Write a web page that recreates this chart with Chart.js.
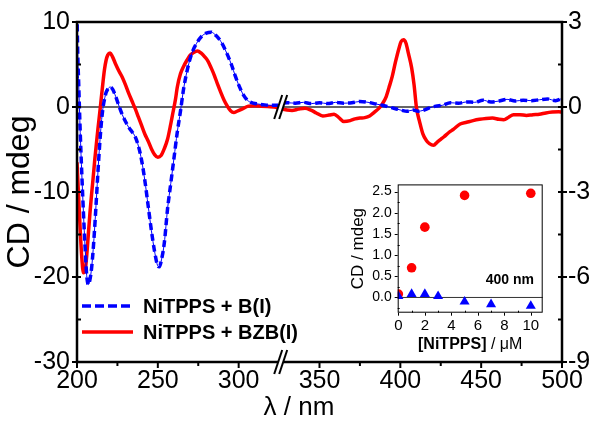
<!DOCTYPE html>
<html>
<head>
<meta charset="utf-8">
<script src="https://cdn.jsdelivr.net/npm/chart.js@4/dist/chart.umd.min.js"></script>
<style>
body { margin: 0; background: #fff; }
#wrap { position: relative; width: 602px; height: 424px; }
#main { position: absolute; left: 0; top: 0; }
#inset { position: absolute; left: 340px; top: 170px; }
</style>
</head>
<body>
<div id="wrap">
  <canvas id="main" width="602" height="424"></canvas>
  <canvas id="inset" width="210" height="190"></canvas>
</div>
<script>
var FONT = "'Liberation Sans', Arial, sans-serif";

// NiTPPS + B(I)
var wlB = [200,200.5,201,202,203,204,205,206,207,208,209,210,211,212,213,214,215,216,217,218,
  219,220.5,222,224,226,228,230,232,234,236,238,240,242,244,246,248,250,251,252,254,
  256,258,260,262,264,266,268.5,271,274,277,280,283,286,289,292,295.5,298,300,303,306,
  309,312,316,320,324,326,330,335,340,345,350,355,360,365,370,375,380,385,389,393,
  397,401,404,408,411,414,418,422,426,431,436,441,446,451,456,461,466,471,476,481,
  486,491,496,500];
var cdB = [11,6,3,-3,-8,-12.5,-16.5,-19.8,-20.9,-20.3,-19,-16.8,-14,-10.8,-7.5,-4.5,-2,-0.2,0.9,1.7,
  2.1,2.35,2.1,1.2,0.1,-0.9,-1.7,-2.4,-2.9,-3.5,-4.6,-6.3,-8.7,-11.6,-14.5,-17,-18.7,-18.8,-18.2,-16,
  -12,-9,-6,-3,-0.5,2.2,4.6,6.3,7.5,8.3,8.7,8.8,8.4,7.7,6.6,5.0,3.6,2.6,1.4,0.7,
  0.45,0.35,0.25,0.2,0.2,0.4,0.5,0.45,0.55,0.4,0.5,0.4,0.55,0.45,0.5,0.65,0.55,0.35,0.2,0,
  -0.2,-0.4,-0.5,-0.35,-0.5,-0.4,-0.1,0.1,0.2,0.5,0.45,0.6,0.55,0.8,0.6,0.7,0.9,0.7,0.8,0.75,
  0.85,0.95,0.75,1.0];

// NiTPPS + BZB(I)
var wlR = [200,201,202,203,204,205,206,207,208,209,210,211,212,213,214,215,216,217,218,219,
  220.5,222,224,226,228,230,232,234,236,238,240,242,244,246,248,250,252,254,256,258,
  259,261,262,264,266,268,270,272,274.5,277,279,281,283,285,287,289,291,293,295,297,
  299,302,306,310,314,318,322,326,330,333,337,341,345,348,352,356,359,362,365,369,
  372,375,378,381,384,387,389,391,393,395,397,399,400.5,402,403.5,405,407,408.5,410,412,
  414,416,418,420.5,423,425,427,430,433,437,441,445,449,453,457,461,464,467,470,474,
  478,482,486,490,494,498,500];
var cdR = [-6.5,-10.5,-14.5,-17.8,-19.5,-19.3,-17.5,-15,-12.5,-10.3,-8.3,-6.2,-4.3,-2.5,-0.8,1,2.8,4.4,5.5,6.1,
  6.35,5.9,5.0,4.2,3.5,2.6,1.6,0.7,-0.2,-1.2,-2.2,-3.2,-4.0,-4.9,-5.6,-5.9,-5.7,-4.9,-3.8,-2.0,
  -1,1,2.3,3.9,4.8,5.5,6.1,6.4,6.6,6.3,5.9,5.4,4.6,3.7,2.65,1.7,0.8,0.1,-0.45,-0.65,
  -0.5,-0.25,0.1,0.15,0.1,0.05,0,-0.2,-0.35,-0.4,-0.25,-0.15,-0.4,-0.7,-1.05,-0.95,-0.85,-1.25,-1.7,-1.6,
  -1.4,-1.3,-1.25,-1.05,-0.6,-0.1,0.4,1.1,2.3,3.6,5.3,6.8,7.7,7.9,7.5,6.3,4.6,2.6,-0.1,-1.8,
  -3.2,-3.9,-4.3,-4.5,-4.1,-3.8,-3.5,-3.0,-2.6,-2.0,-1.8,-1.6,-1.45,-1.35,-1.3,-1.45,-1.5,-1.2,-0.9,-0.9,
  -1.0,-0.9,-0.85,-0.7,-0.6,-0.55,-0.6];

var xTicks = [200,250,300,350,400,450,500];
var leftTicks = [-30,-20,-10,0,10];
var rightTicks = [-9,-6,-3,0,3];
var breakAt = 326;

// inset: CD at 400 nm vs [NiTPPS]
var concR = [0,1,2,5,10];
var insetR = [0.08,0.70,1.66,2.41,2.46];
var concB = [0,1,2,3,5,7,10];
var insetB = [0.03,0.08,0.08,0.03,-0.10,-0.16,-0.20];
var insetXTicks = [0,2,4,6,8,10];
var insetYTicks = [0,0.5,1,1.5,2,2.5];

function pts(xs, ys) {
  return xs.map(function (x, i) { return {x: x, y: ys[i]}; });
}
function seg(ctx, x1, y1, x2, y2) {
  ctx.beginPath(); ctx.moveTo(x1, y1); ctx.lineTo(x2, y2); ctx.stroke();
}
function useTicks(arr) {
  return function (s) { s.ticks = arr.map(function (v) { return {value: v}; }); };
}

var mainDeco = {
  id: 'mainDeco',
  beforeDatasetsDraw: function (chart) {
    var ctx = chart.ctx, a = chart.chartArea, y0 = chart.scales.y.getPixelForValue(0);
    ctx.save();
    ctx.strokeStyle = '#333'; ctx.lineWidth = 1.5;
    seg(ctx, a.left, y0, a.right, y0);
    ctx.restore();
  },
  afterDraw: function (chart) {
    var ctx = chart.ctx, a = chart.chartArea, sx = chart.scales.x, sy = chart.scales.y, sy2 = chart.scales.y2;
    ctx.save();
    ctx.strokeStyle = '#000'; ctx.lineWidth = 2.5; ctx.lineCap = 'square';
    ctx.strokeRect(a.left, a.top, a.right - a.left, a.bottom - a.top);
    ctx.lineCap = 'butt'; ctx.lineWidth = 2;
    // left axis ticks
    for (var v = -30; v <= 10; v += 5) {
      var p = sy.getPixelForValue(v);
      seg(ctx, a.left, p, a.left + 4, p);
      if (v % 10 === 0) seg(ctx, a.left - 5, p, a.left, p);
    }
    // right axis ticks
    for (var w = -9; w <= 3; w += 1.5) {
      var q = sy2.getPixelForValue(w);
      seg(ctx, a.right - 4, q, a.right, q);
      if (w % 3 === 0) seg(ctx, a.right, q, a.right + 5, q);
    }
    // bottom ticks
    for (var t = 200; t <= 500; t += 25) {
      if (t === 325) continue;
      var px = sx.getPixelForValue(t);
      seg(ctx, px, a.bottom, px, a.bottom + (t % 50 === 0 ? 6 : 4));
    }
    // axis break marks
    var bx = sx.getPixelForValue(breakAt);
    [a.bottom, sy.getPixelForValue(0)].forEach(function (cy) {
      var dx = 4, dy = 12, g = 5;
      ctx.fillStyle = '#fff';
      ctx.beginPath();
      ctx.moveTo(bx - g / 2 - dx, cy + dy); ctx.lineTo(bx - g / 2 + dx, cy - dy);
      ctx.lineTo(bx + g / 2 + dx, cy - dy); ctx.lineTo(bx + g / 2 - dx, cy + dy);
      ctx.closePath(); ctx.fill();
      ctx.strokeStyle = '#000'; ctx.lineWidth = 2;
      seg(ctx, bx - g / 2 - dx, cy + dy, bx - g / 2 + dx, cy - dy);
      seg(ctx, bx + g / 2 - dx, cy + dy, bx + g / 2 + dx, cy - dy);
    });
    // legend
    ctx.lineWidth = 3.5;
    ctx.strokeStyle = '#0000ff'; ctx.setLineDash([9, 4]);
    seg(ctx, 82, 306, 130, 306);
    ctx.setLineDash([]);
    ctx.strokeStyle = '#ff0000';
    seg(ctx, 82, 332, 133, 332);
    ctx.fillStyle = '#000'; ctx.textBaseline = 'middle'; ctx.textAlign = 'left';
    ctx.font = 'bold 20px ' + FONT;
    ctx.fillText('NiTPPS + B(I)', 143, 307);
    ctx.fillText('NiTPPS + BZB(I)', 143, 333);
    // x title
    ctx.font = '26px ' + FONT; ctx.textAlign = 'center';
    ctx.fillText('\u03bb / nm', 299, 408);
    ctx.restore();
  }
};

var tickFont = {family: FONT, size: 25};

new Chart(document.getElementById('main'), {
  type: 'line',
  data: {
    datasets: [
      {data: pts(wlB, cdB), borderColor: '#0000ff', borderWidth: 3.5, borderDash: [7, 4], order: 0},
      {data: pts(wlB, cdB), borderColor: '#0000ff', borderWidth: 1, order: 1},
      {data: pts(wlR, cdR), borderColor: '#ff0000', borderWidth: 3.5, order: 2}
    ]
  },
  options: {
    responsive: false,
    animation: false,
    layout: {padding: {top: 20, left: 0, right: 0, bottom: 0}},
    plugins: {legend: {display: false}, tooltip: {enabled: false}},
    elements: {point: {radius: 0}, line: {cubicInterpolationMode: 'monotone'}},
    datasets: {line: {clip: 0}},
    scales: {
      x: {
        type: 'linear', min: 200, max: 500,
        grid: {display: false, drawTicks: false}, border: {display: false},
        afterBuildTicks: useTicks(xTicks),
        afterFit: function (s) { s.height = 62; },
        ticks: {font: tickFont, color: '#000', padding: 4, maxRotation: 0, autoSkip: false}
      },
      y: {
        position: 'left', min: -30, max: 10,
        grid: {display: false, drawTicks: false}, border: {display: false},
        afterBuildTicks: useTicks(leftTicks),
        afterFit: function (s) { s.width = 77; },
        ticks: {font: tickFont, color: '#000', padding: 7},
        title: {display: true, text: 'CD / mdeg', color: '#000',
          font: {family: FONT, size: 32, lineHeight: 1}, padding: {top: 4, bottom: 0}}
      },
      y2: {
        position: 'right', min: -9, max: 3,
        grid: {display: false, drawTicks: false}, border: {display: false},
        afterBuildTicks: useTicks(rightTicks),
        afterFit: function (s) { s.width = 40; },
        ticks: {font: tickFont, color: '#000', padding: 6}
      }
    }
  },
  plugins: [mainDeco]
});

var insetDeco = {
  id: 'insetDeco',
  beforeDatasetsDraw: function (chart) {
    var ctx = chart.ctx, a = chart.chartArea, y0 = chart.scales.y.getPixelForValue(0);
    ctx.save();
    ctx.strokeStyle = '#333'; ctx.lineWidth = 1;
    seg(ctx, a.left, y0, a.right, y0);
    ctx.restore();
  },
  afterDraw: function (chart) {
    var ctx = chart.ctx, a = chart.chartArea, sx = chart.scales.x, sy = chart.scales.y;
    ctx.save();
    ctx.strokeStyle = '#000'; ctx.lineWidth = 1;
    ctx.strokeRect(a.left + 0.5, a.top + 0.5, a.right - a.left - 1, a.bottom - a.top - 1);
    for (var v = -0.25; v <= 2.5; v += 0.25) {
      var p = Math.round(sy.getPixelForValue(v)) + 0.5;
      if (Math.abs(v * 2 - Math.round(v * 2)) < 1e-6) seg(ctx, a.left - 3, p, a.left, p);
      else seg(ctx, a.left, p, a.left + 2, p);
    }
    for (var t = 0; t <= 10; t += 1) {
      var px = Math.round(sx.getPixelForValue(t)) + 0.5;
      if (t % 2 === 0) seg(ctx, px, a.bottom, px, a.bottom + 3);
      else seg(ctx, px, a.bottom - 2, px, a.bottom);
    }
    ctx.fillStyle = '#000'; ctx.textBaseline = 'middle';
    ctx.font = 'bold 14px ' + FONT; ctx.textAlign = 'right';
    ctx.fillText('400 nm', 194, 110);
    // x title with bold part
    ctx.textAlign = 'left';
    ctx.font = 'bold 16px ' + FONT;
    var w1 = ctx.measureText('[NiTPPS]').width;
    ctx.font = '16px ' + FONT;
    var w2 = ctx.measureText(' / \u03bcM').width;
    var x0 = (a.left + a.right) / 2 - (w1 + w2) / 2;
    ctx.font = 'bold 16px ' + FONT;
    ctx.fillText('[NiTPPS]', x0, 175);
    ctx.font = '16px ' + FONT;
    ctx.fillText(' / \u03bcM', x0 + w1, 175);
    ctx.restore();
  }
};

new Chart(document.getElementById('inset'), {
  type: 'scatter',
  data: {
    datasets: [
      {data: pts(concB, insetB), pointStyle: 'triangle', pointRadius: 5.8,
        backgroundColor: '#0000ff', borderColor: '#0000ff', borderWidth: 0, order: 0},
      {data: pts(concR, insetR), pointStyle: 'circle', pointRadius: 4.8,
        backgroundColor: '#ff0000', borderColor: '#ff0000', borderWidth: 0, order: 1}
    ]
  },
  options: {
    responsive: false,
    animation: false,
    layout: {padding: {top: 9.3, left: 0, right: 7.3, bottom: 0}},
    plugins: {legend: {display: false}, tooltip: {enabled: false}},
    scales: {
      x: {
        type: 'linear', min: -0.05, max: 10.9,
        grid: {display: false, drawTicks: false}, border: {display: false},
        afterBuildTicks: useTicks(insetXTicks),
        afterFit: function (s) { s.height = 47.3; },
        ticks: {font: {family: FONT, size: 15}, color: '#000', padding: 4, maxRotation: 0, autoSkip: false}
      },
      y: {
        min: -0.36, max: 2.67,
        grid: {display: false, drawTicks: false}, border: {display: false},
        afterBuildTicks: useTicks(insetYTicks),
        afterFit: function (s) { s.width = 57.7; },
        ticks: {font: {family: FONT, size: 14}, color: '#000', padding: 6,
          callback: function (v) { return v.toFixed(1); }},
        title: {display: true, text: 'CD / mdeg', color: '#000',
          font: {family: FONT, size: 17, lineHeight: 1}, padding: {top: 9.5, bottom: 0}}
      }
    }
  },
  plugins: [insetDeco]
});
</script>
</body>
</html>
